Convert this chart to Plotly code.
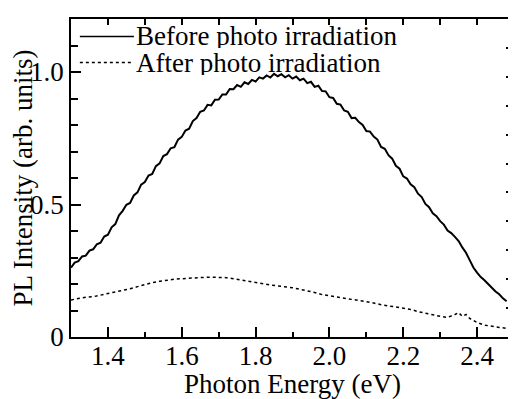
import plotly.graph_objs as go

# PL spectra (before: 0.01 eV steps, noise kept by eye)
energy_before = [1.30, 1.31, 1.32, 1.33, 1.34, 1.35, 1.36, 1.37, 1.38, 1.39,
                 1.40, 1.41, 1.42, 1.43, 1.44, 1.45, 1.46, 1.47, 1.48, 1.49,
                 1.50, 1.51, 1.52, 1.53, 1.54, 1.55, 1.56, 1.57, 1.58, 1.59,
                 1.60, 1.61, 1.62, 1.63, 1.64, 1.65, 1.66, 1.67, 1.68, 1.69,
                 1.70, 1.71, 1.72, 1.73, 1.74, 1.75, 1.76, 1.77, 1.78, 1.79,
                 1.80, 1.81, 1.82, 1.83, 1.84, 1.85, 1.86, 1.87, 1.88, 1.89,
                 1.90, 1.91, 1.92, 1.93, 1.94, 1.95, 1.96, 1.97, 1.98, 1.99,
                 2.00, 2.01, 2.02, 2.03, 2.04, 2.05, 2.06, 2.07, 2.08, 2.09,
                 2.10, 2.11, 2.12, 2.13, 2.14, 2.15, 2.16, 2.17, 2.18, 2.19,
                 2.20, 2.21, 2.22, 2.23, 2.24, 2.25, 2.26, 2.27, 2.28, 2.29,
                 2.30, 2.31, 2.32, 2.33, 2.34, 2.35, 2.36, 2.37, 2.38, 2.39,
                 2.40, 2.41, 2.42, 2.43, 2.44, 2.45, 2.46, 2.47, 2.48]
pl_before = [0.262, 0.281, 0.286, 0.304, 0.307, 0.326, 0.331, 0.350, 0.356, 0.379,
             0.386, 0.414, 0.426, 0.459, 0.476, 0.499, 0.506, 0.534, 0.546, 0.575,
             0.585, 0.609, 0.615, 0.645, 0.655, 0.683, 0.690, 0.712, 0.716, 0.745,
             0.755, 0.779, 0.786, 0.815, 0.826, 0.850, 0.855, 0.876, 0.874, 0.895,
             0.896, 0.915, 0.915, 0.936, 0.935, 0.951, 0.944, 0.961, 0.955, 0.970,
             0.964, 0.980, 0.975, 0.987, 0.979, 0.993, 0.984, 0.992, 0.980, 0.988,
             0.975, 0.983, 0.969, 0.975, 0.958, 0.963, 0.944, 0.948, 0.928, 0.927,
             0.905, 0.902, 0.880, 0.877, 0.855, 0.850, 0.826, 0.827, 0.811, 0.800,
             0.777, 0.775, 0.756, 0.745, 0.717, 0.710, 0.686, 0.673, 0.646, 0.635,
             0.606, 0.598, 0.576, 0.565, 0.541, 0.528, 0.502, 0.490, 0.467, 0.456,
             0.437, 0.424, 0.402, 0.392, 0.378, 0.362, 0.338, 0.318, 0.290, 0.262,
             0.243, 0.226, 0.214, 0.198, 0.186, 0.172, 0.161, 0.146, 0.135]

energy_after = [1.30, 1.32, 1.34, 1.36, 1.38, 1.40, 1.42, 1.44, 1.46, 1.48,
                1.50, 1.52, 1.54, 1.56, 1.58, 1.60, 1.62, 1.64, 1.66, 1.68,
                1.70, 1.72, 1.74, 1.76, 1.78, 1.80, 1.82, 1.84, 1.86, 1.88,
                1.90, 1.92, 1.94, 1.96, 1.98, 2.00, 2.02, 2.04, 2.06, 2.08,
                2.10, 2.12, 2.14, 2.16, 2.18, 2.20, 2.22, 2.24, 2.26, 2.28,
                2.30, 2.32, 2.34, 2.35, 2.36, 2.37, 2.38, 2.40, 2.42, 2.44,
                2.46, 2.48, 2.50]
pl_after = [0.14, 0.145, 0.15, 0.152, 0.158, 0.162, 0.168, 0.175, 0.182, 0.19,
            0.198, 0.205, 0.21, 0.215, 0.218, 0.22, 0.222, 0.225, 0.225, 0.226,
            0.225, 0.224, 0.22, 0.215, 0.21, 0.205, 0.2, 0.196, 0.193, 0.19,
            0.186, 0.18, 0.175, 0.168, 0.16, 0.155, 0.15, 0.145, 0.142, 0.138,
            0.134, 0.128, 0.122, 0.118, 0.114, 0.11, 0.104, 0.096, 0.089, 0.084,
            0.078, 0.074, 0.085, 0.092, 0.078, 0.085, 0.07, 0.055, 0.045, 0.04,
            0.036, 0.033, 0.032]

legend_labels = ['Before photo irradiation', 'After photo irradiation']

font = dict(family='Liberation Serif', size=27, color='black')

before = go.Scatter(x=energy_before, y=pl_before, mode='lines', name=legend_labels[0],
                    line=dict(color='black', width=2), showlegend=False)
after = go.Scatter(x=energy_after, y=pl_after, mode='lines', name=legend_labels[1],
                   line=dict(color='black', width=1.5, dash='dot'), showlegend=False)
# dummy traces so the top / right tick axes get drawn
top_dummy = go.Scatter(x=[None], y=[None], xaxis='x2', yaxis='y', showlegend=False, hoverinfo='skip')
right_dummy = go.Scatter(x=[None], y=[None], xaxis='x', yaxis='y2', showlegend=False, hoverinfo='skip')

# the page body adds an 8px margin, so the figure is 8px smaller than the window
layout = go.Layout(
    width=508, height=391,
    margin=dict(l=63, r=0, t=11, b=62),
    paper_bgcolor='white', plot_bgcolor='white',
    font=font,
    xaxis=dict(
        title=dict(text='Photon Energy (eV)', standoff=4, font=font),
        range=[1.3, 2.5], dtick=0.2, tick0=1.4, tickformat='.1f', tickfont=font,
        ticklabelstandoff=-6,
        ticks='inside', ticklen=10, tickwidth=1.5, tickcolor='black',
        minor=dict(dtick=0.1, ticks='inside', ticklen=5, tickwidth=1.5, tickcolor='black'),
        showline=True, linecolor='black', linewidth=1.5, mirror=True,
        showgrid=False, zeroline=False,
    ),
    xaxis2=dict(
        overlaying='x', side='top', range=[1.3, 2.5], dtick=0.1, tick0=1.4,
        ticks='inside', ticklen=6, tickwidth=1.5, tickcolor='black',
        showticklabels=False, showgrid=False, zeroline=False,
    ),
    yaxis=dict(
        title=dict(text='PL Intensity (arb. units)', standoff=2, font=font),
        range=[0, 1.2], tickvals=[0, 0.5, 1.0], ticktext=['0', '0.5', '1.0'], tickfont=font,
        ticks='inside', ticklen=10, tickwidth=1.5, tickcolor='black',
        minor=dict(dtick=0.1, ticks='inside', ticklen=7, tickwidth=1.5, tickcolor='black'),
        showline=True, linecolor='black', linewidth=1.5, mirror=True,
        showgrid=False, zeroline=False,
    ),
    yaxis2=dict(
        overlaying='y', side='right', range=[0, 11], dtick=1,
        ticks='inside', ticklen=8, tickwidth=1.5, tickcolor='black',
        showticklabels=False, showgrid=False, zeroline=False,
    ),
)

fig = go.Figure(data=[before, after, top_dummy, right_dummy], layout=layout)

# hand-drawn legend in the upper left corner
legend_rows = [(0.945, 'solid', 1.5), (0.863, 'dot', 1.5)]
for (ypos, dash, w), label in zip(legend_rows, legend_labels):
    fig.add_shape(type='line', xref='paper', yref='paper', x0=0.02, x1=0.142, y0=ypos, y1=ypos,
                  line=dict(color='black', width=w, dash=dash))
    fig.add_annotation(xref='paper', yref='paper', x=0.142, y=ypos, text=label, showarrow=False,
                       xanchor='left', yanchor='middle', height=24, font=font)

fig.write_html("out.html")
